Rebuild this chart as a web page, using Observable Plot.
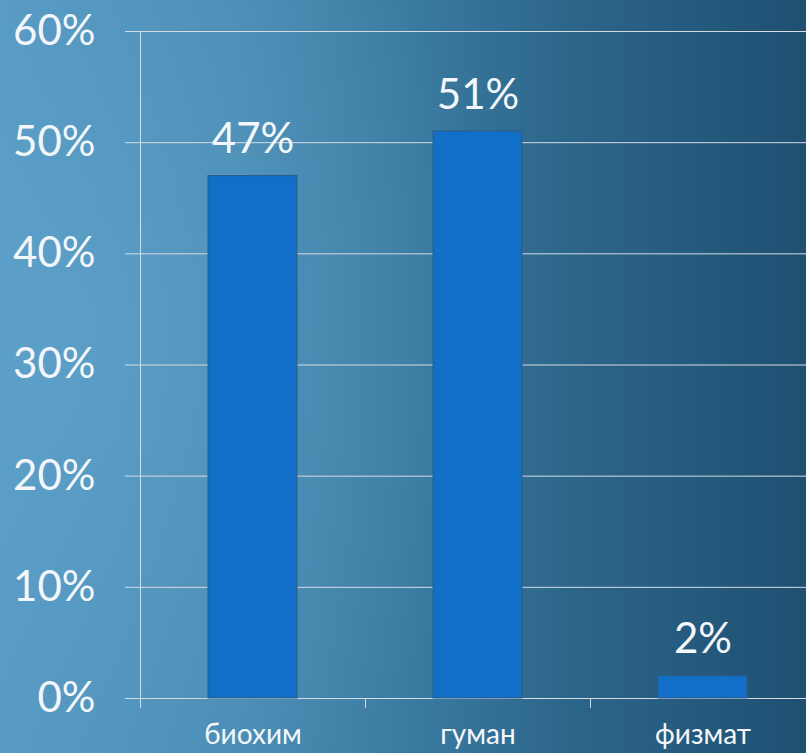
<!DOCTYPE html>
<html>
<head>
<meta charset="utf-8">
<script src="https://cdn.jsdelivr.net/npm/d3@7"></script>
<script src="https://cdn.jsdelivr.net/npm/@observablehq/plot@0.6"></script>
<style>
  html, body { margin: 0; padding: 0; width: 806px; height: 753px; overflow: hidden; }
  body {
    background:
      radial-gradient(ellipse 420px 520px at 10% 45%, rgba(110,175,215,0.35), rgba(110,175,215,0) 100%),
      linear-gradient(to right, #5599c2 0%, #4a8cb4 30%, #3c7ca2 50%, #2d668b 70%, #1e5072 100%);
    font-family: Lato, "Open Sans", sans-serif;
  }
  #chart svg { display: block; overflow: visible; background: transparent; }
</style>
</head>
<body>
<div id="chart"></div>
<script>
const categories = ["биохим", "гуман", "физмат"];
const values = [47, 51, 2];
const yTicks = [0, 10, 20, 30, 40, 50, 60];

const data = categories.map((c, i) => ({category: c, value: values[i]}));
const pct = d => d + "%";
const gridColor = "#d4dbe2";
const textColor = "#f4f7fa";

const chart = Plot.plot({
  width: 806,
  height: 753,
  marginLeft: 140,
  marginTop: 31,
  marginBottom: 55,
  marginRight: 0,
  style: {background: "transparent", fontFamily: "Lato, 'Open Sans', sans-serif", color: textColor},
  x: {domain: categories, range: [140, 815], paddingInner: 0.604, paddingOuter: 0.302, label: null},
  y: {domain: [0, 60], label: null},
  marks: [
    Plot.gridY(yTicks, {stroke: gridColor, strokeOpacity: 1, strokeWidth: 1}),
    Plot.axisY(yTicks, {
      tickSize: 15, tickPadding: 30, tickFormat: pct, stroke: gridColor,
      fontSize: 42, fill: textColor, label: null
    }),
    Plot.frame({anchor: "left", stroke: gridColor}),
    Plot.axisX(categories, {
      tickSize: 10, tickFormat: () => "", stroke: gridColor, dx: -112.5, label: null
    }),
    Plot.axisX(categories, {
      tickSize: 0, tickPadding: 26, fontSize: 28, fill: textColor, label: null
    }),
    Plot.barY(data, {x: "category", y: "value", fill: "#116fc7", stroke: "#2c5d88", strokeWidth: 1}),
    Plot.text(data, {
      x: "category", y: "value", text: d => pct(d.value),
      lineAnchor: "bottom", dy: -23, fontSize: 42, fill: textColor
    })
  ]
});
document.getElementById("chart").appendChild(chart);
</script>
</body>
</html>
